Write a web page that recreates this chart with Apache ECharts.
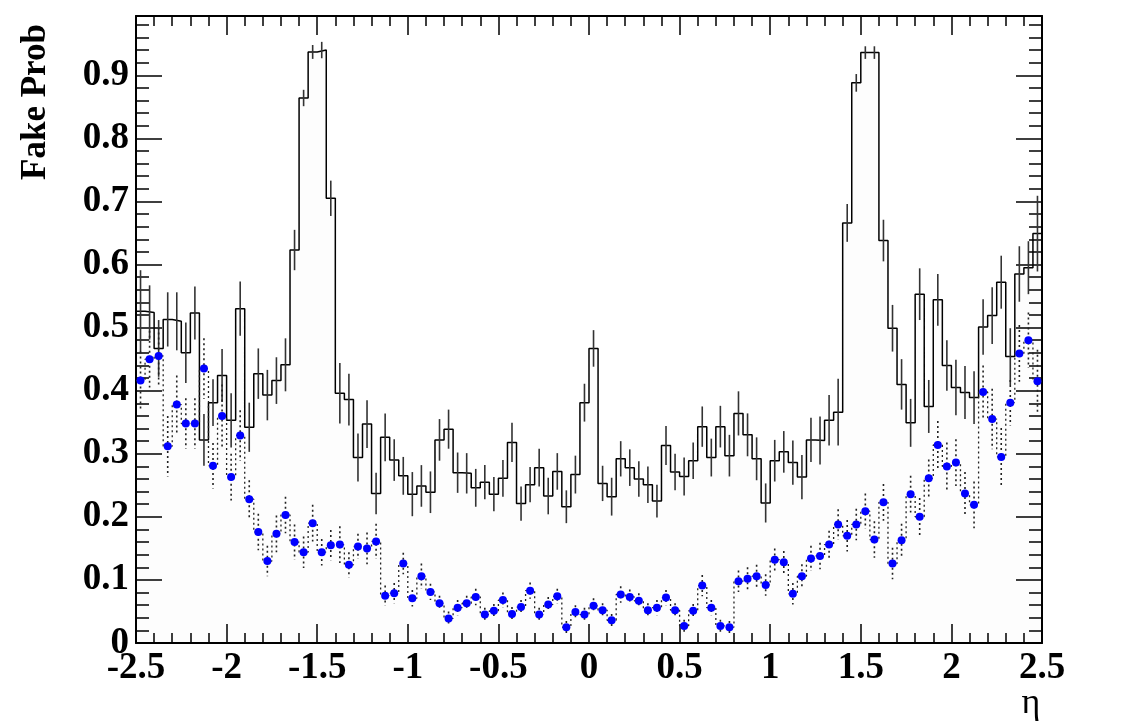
<!DOCTYPE html>
<html>
<head>
<meta charset="utf-8">
<title>Fake Prob vs eta</title>
<script src="https://cdn.jsdelivr.net/npm/echarts@6/dist/echarts.min.js"></script>
<style>
  html, body { margin: 0; padding: 0; background: #fff; }
  #chart { width: 1134px; height: 724px; }
</style>
</head>
<body>
<div id="chart"></div>
<script>
// binning: 100 bins from -2.5 to 2.5
const etaMin = -2.5;
const etaMax = 2.5;
const nBins = 100;

// solid histogram (fake probability, first sample)
const histValues = [
  0.526, 0.524, 0.467, 0.513, 0.510, 0.460, 0.523, 0.322, 0.381, 0.424,
  0.353, 0.530, 0.342, 0.427, 0.393, 0.416, 0.441, 0.623, 0.864, 0.937,
  0.940, 0.705, 0.396, 0.386, 0.294, 0.347, 0.237, 0.326, 0.290, 0.265,
  0.236, 0.249, 0.239, 0.322, 0.339, 0.270, 0.269, 0.246, 0.255, 0.236,
  0.261, 0.318, 0.221, 0.251, 0.278, 0.233, 0.272, 0.216, 0.267, 0.381,
  0.467, 0.253, 0.232, 0.292, 0.278, 0.260, 0.251, 0.225, 0.313, 0.271,
  0.264, 0.289, 0.343, 0.294, 0.343, 0.297, 0.364, 0.330, 0.292, 0.222,
  0.289, 0.303, 0.286, 0.263, 0.322, 0.321, 0.353, 0.366, 0.666, 0.888,
  0.936, 0.936, 0.638, 0.499, 0.410, 0.349, 0.553, 0.375, 0.544, 0.440,
  0.405, 0.397, 0.389, 0.501, 0.519, 0.572, 0.454, 0.585, 0.595, 0.649
];
const histErrors = [
  0.065, 0.043, 0.045, 0.043, 0.046, 0.048, 0.042, 0.041, 0.037, 0.042,
  0.043, 0.043, 0.039, 0.040, 0.040, 0.037, 0.042, 0.032, 0.013, 0.011,
  0.013, 0.028, 0.048, 0.041, 0.038, 0.038, 0.033, 0.038, 0.033, 0.030,
  0.035, 0.033, 0.033, 0.033, 0.031, 0.032, 0.032, 0.030, 0.027, 0.027,
  0.029, 0.031, 0.027, 0.028, 0.030, 0.029, 0.029, 0.026, 0.030, 0.030,
  0.029, 0.028, 0.030, 0.028, 0.029, 0.028, 0.029, 0.026, 0.031, 0.029,
  0.030, 0.029, 0.032, 0.030, 0.033, 0.033, 0.035, 0.034, 0.034, 0.031,
  0.033, 0.033, 0.035, 0.035, 0.035, 0.038, 0.040, 0.053, 0.030, 0.014,
  0.010, 0.010, 0.033, 0.037, 0.040, 0.038, 0.041, 0.042, 0.041, 0.040,
  0.044, 0.042, 0.042, 0.044, 0.045, 0.042, 0.045, 0.044, 0.042, 0.060
];

// blue points (second sample)
const pointValues = [
  0.416, 0.450, 0.455, 0.312, 0.378, 0.348, 0.348, 0.435, 0.281, 0.360,
  0.263, 0.329, 0.228, 0.176, 0.130, 0.173, 0.203, 0.160, 0.144, 0.190,
  0.144, 0.155, 0.156, 0.124, 0.153, 0.150, 0.161, 0.075, 0.079, 0.126,
  0.071, 0.106, 0.081, 0.063, 0.039, 0.056, 0.063, 0.073, 0.045, 0.051,
  0.068, 0.046, 0.057, 0.083, 0.045, 0.061, 0.074, 0.025, 0.049, 0.045,
  0.059, 0.052, 0.036, 0.077, 0.073, 0.067, 0.052, 0.056, 0.072, 0.052,
  0.027, 0.051, 0.091, 0.056, 0.027, 0.025, 0.098, 0.102, 0.106, 0.092,
  0.132, 0.128, 0.078, 0.106, 0.134, 0.138, 0.156, 0.188, 0.170, 0.188,
  0.209, 0.164, 0.223, 0.126, 0.163, 0.236, 0.200, 0.261, 0.314, 0.280,
  0.286, 0.237, 0.219, 0.398, 0.355, 0.295, 0.381, 0.459, 0.480, 0.415
];
const pointErrors = [
  0.046, 0.045, 0.045, 0.048, 0.046, 0.040, 0.040, 0.048, 0.036, 0.050,
  0.037, 0.040, 0.030, 0.029, 0.024, 0.029, 0.029, 0.028, 0.025, 0.029,
  0.021, 0.024, 0.029, 0.020, 0.020, 0.025, 0.028, 0.016, 0.016, 0.017,
  0.013, 0.020, 0.013, 0.012, 0.011, 0.012, 0.012, 0.013, 0.011, 0.011,
  0.012, 0.011, 0.011, 0.013, 0.011, 0.012, 0.012, 0.010, 0.011, 0.011,
  0.012, 0.011, 0.010, 0.013, 0.012, 0.012, 0.011, 0.012, 0.012, 0.011,
  0.010, 0.011, 0.017, 0.012, 0.010, 0.010, 0.017, 0.018, 0.018, 0.017,
  0.018, 0.018, 0.017, 0.019, 0.020, 0.021, 0.022, 0.024, 0.025, 0.025,
  0.028, 0.029, 0.029, 0.025, 0.026, 0.029, 0.030, 0.030, 0.038, 0.038,
  0.037, 0.034, 0.037, 0.042, 0.048, 0.046, 0.036, 0.045, 0.044, 0.050
];

const xTicks = { min: -2.5, max: 2.5, interval: 0.5 };
const yTicks = { min: 0, max: 0.994, interval: 0.1 };

const binWidth = (etaMax - etaMin) / nBins;
const labelFont = 'Liberation Serif';

// points at the lower bin edges, drawn with step 'end'
function stepData (values) {
  let data = values.map(function (v, i) {
    return [etaMin + i * binWidth, v];
  });
  data.push([etaMax, values[values.length - 1]]);
  return data;
}

function errorData (values, errors) {
  return values.map(function (v, i) {
    return [etaMin + (i + 0.5) * binWidth, v, errors[i]];
  });
}

function errorBar (color, dash) {
  return function (params, api) {
    let x = api.value(0);
    let y = api.value(1);
    let e = api.value(2);
    let top = api.coord([x, y + e]);
    let bottom = api.coord([x, Math.max(0, y - e)]);
    return {
      type: 'line',
      shape: { x1: top[0], y1: top[1], x2: bottom[0], y2: bottom[1] },
      style: { stroke: color, lineWidth: 1.6, lineDash: dash }
    };
  };
}

function axisStyle (show, tickLen, minorLen) {
  return {
    axisLine: { show: true, onZero: false, lineStyle: { color: '#000', width: 2 } },
    axisTick: { show: true, inside: true, length: tickLen, lineStyle: { color: '#000', width: 1.5 } },
    minorTick: { show: true, splitNumber: 5, length: minorLen, lineStyle: { color: '#000', width: 1.5 } },
    splitLine: { show: false },
    axisLabel: {
      show: show,
      color: '#000',
      fontFamily: labelFont,
      fontWeight: 'bold',
      fontSize: 37,
      margin: 7
    }
  };
}

let chart = echarts.init(document.getElementById('chart'), null, { renderer: 'canvas' });

let xBottom = Object.assign({ type: 'value', position: 'bottom' }, xTicks, axisStyle(true, 19, 10));
let xTop = Object.assign({ type: 'value', position: 'top' }, xTicks, axisStyle(false, 19, 10));
let yLeft = Object.assign({ type: 'value', position: 'left' }, yTicks, axisStyle(true, 26, 13));
let yRight = Object.assign({ type: 'value', position: 'right' }, yTicks, axisStyle(false, 26, 13));
yLeft.axisLabel.showMaxLabel = false;

chart.setOption({
  backgroundColor: '#fff',
  animation: false,
  grid: { left: 136, right: 92, top: 16, bottom: 81 },
  xAxis: [xBottom, xTop],
  yAxis: [yLeft, yRight],
  graphic: [
    {
      type: 'text',
      x: 36,
      y: 102,
      rotation: Math.PI / 2,
      style: {
        text: 'Fake Prob',
        fill: '#000',
        font: 'bold 35px "Liberation Serif"',
        align: 'center',
        verticalAlign: 'middle'
      }
    },
    {
      type: 'text',
      x: 1031,
      y: 704,
      style: {
        text: 'η',
        fill: '#000',
        font: '36px "Liberation Serif"',
        align: 'center',
        verticalAlign: 'middle'
      }
    }
  ],
  series: [
    {
      name: 'hist',
      type: 'line',
      step: 'end',
      data: stepData(histValues),
      showSymbol: false,
      lineStyle: { color: '#000', width: 1.5 },
      areaStyle: { color: 'rgba(0,0,0,0.012)' },
      z: 3
    },
    {
      name: 'hist errors',
      type: 'custom',
      data: errorData(histValues, histErrors),
      renderItem: errorBar('#333', null),
      z: 4
    },
    {
      name: 'points step',
      type: 'line',
      step: 'end',
      data: stepData(pointValues),
      showSymbol: false,
      lineStyle: { color: '#222', width: 1.3, type: [2, 3] },
      z: 5
    },
    {
      name: 'points errors',
      type: 'custom',
      data: errorData(pointValues, pointErrors),
      renderItem: errorBar('#222', [2, 3]),
      z: 6
    },
    {
      name: 'points',
      type: 'scatter',
      data: errorData(pointValues, pointErrors),
      symbol: 'circle',
      symbolSize: 8,
      itemStyle: { color: '#0000ff', opacity: 1 },
      z: 7
    }
  ]
});
</script>
</body>
</html>
